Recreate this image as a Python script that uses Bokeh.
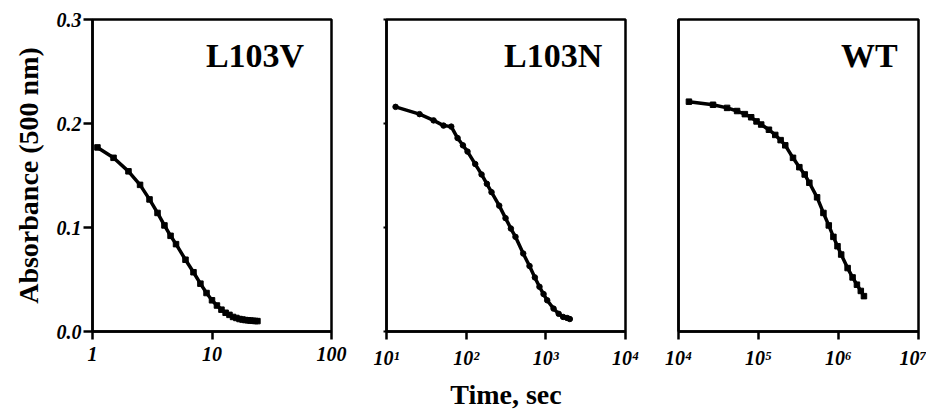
from bokeh.plotting import figure
from bokeh.layouts import row
from bokeh.models import FixedTicker, Label, Range1d
from bokeh.embed import file_html
from bokeh.resources import INLINE

# ---------------- data ----------------
l103v_t = [1.1, 1.5, 2, 2.5, 3, 3.5, 4, 4.5, 5, 6, 7, 8, 9, 10, 11, 12, 13, 14, 15,
           16, 17, 18, 19, 20, 21, 22, 23, 24]
l103v_a = [0.177, 0.167, 0.154, 0.141, 0.127, 0.114, 0.102, 0.092, 0.084, 0.069, 0.057,
           0.046, 0.037, 0.030, 0.025, 0.021, 0.018, 0.016, 0.014, 0.013, 0.012, 0.0115,
           0.011, 0.0108, 0.0105, 0.0103, 0.0101, 0.010]

l103n_t = [13, 26, 39, 52, 65, 78, 91, 104, 130, 156, 182, 208, 260, 312, 364, 416, 520,
           624, 728, 832, 936, 1040, 1250, 1450, 1650, 1850, 2000]
l103n_a = [0.216, 0.209, 0.203, 0.198, 0.197, 0.186, 0.179, 0.173, 0.161, 0.151, 0.142,
           0.134, 0.121, 0.109, 0.099, 0.091, 0.075, 0.063, 0.052, 0.043, 0.036, 0.030,
           0.022, 0.017, 0.014, 0.013, 0.012]

wt_t = [13500, 27000, 40500, 54000, 67500, 81000, 94500, 108000, 135000, 162000, 189000,
        216000, 270000, 324000, 378000, 432000, 540000, 648000, 756000, 864000, 972000,
        1080000, 1300000, 1500000, 1700000, 1900000, 2080000]
wt_a = [0.221, 0.218, 0.215, 0.212, 0.209, 0.206, 0.202, 0.199, 0.194, 0.189, 0.184,
        0.179, 0.167, 0.158, 0.151, 0.143, 0.129, 0.114, 0.102, 0.091, 0.082, 0.074,
        0.061, 0.052, 0.045, 0.039, 0.034]

y_ticks = [0.0, 0.1, 0.2, 0.3]
y_tick_labels = ["0.0", "0.1", "0.2", "0.3"]

x1_ticks = [1, 10, 100]
x1_labels = ["1", "10", "100"]
x2_ticks = [10, 100, 1000, 10000]
x2_labels = ["10\u00b9", "10\u00b2", "10\u00b3", "10\u2074"]
x3_ticks = [1e4, 1e5, 1e6, 1e7]
x3_labels = ["10\u2074", "10\u2075", "10\u2076", "10\u2077"]

panel_names = ["L103V", "L103N", "WT"]
x_title = "Time, sec"
y_title = "Absorbance (500 nm)"

FONT = "Liberation Serif"
H = 412
TOP = 19
FRAME_H = 314


def make_panel(width, left, right, xr, xt, xl, name, name_x, t, a, marker,
               show_ylabels=False, ytick_out=0, xlabel=None):
    p = figure(width=width, height=H, x_axis_type="log",
               x_range=Range1d(*xr), y_range=Range1d(0, 0.3),
               output_backend="svg", toolbar_location=None,
               min_border_left=left, min_border_right=right,
               min_border_top=TOP, min_border_bottom=H - TOP - FRAME_H)
    p.background_fill_color = "white"
    p.border_fill_color = "white"
    p.grid.visible = False
    p.outline_line_color = "black"
    p.outline_line_width = 2.5
    p.outline_line_alpha = 1

    xa = p.xaxis[0]
    xa.ticker = FixedTicker(ticks=xt, minor_ticks=[])
    ov = {float(k): v for k, v in zip(xt, xl)}
    ov.update({int(k): v for k, v in zip(xt, xl)})
    xa.major_label_overrides = ov
    xa.axis_line_width = 2.5
    xa.axis_line_color = "black"
    xa.major_tick_line_width = 2.5
    xa.major_tick_line_color = "black"
    xa.major_tick_out = 8
    xa.major_tick_in = 0
    xa.minor_tick_line_color = None
    xa.major_label_standoff = 7
    xa.major_label_text_font = FONT
    xa.major_label_text_font_style = "bold italic"
    xa.major_label_text_font_size = "20px"
    xa.major_label_text_color = "black"
    if xlabel:
        xa.axis_label = xlabel
        xa.axis_label_text_font = FONT
        xa.axis_label_text_font_style = "bold"
        xa.axis_label_text_font_size = "28px"
        xa.axis_label_standoff = 7
        xa.axis_label_text_color = "black"

    ya = p.yaxis[0]
    ya.ticker = FixedTicker(ticks=y_ticks, minor_ticks=[])
    ya.axis_line_width = 2.5
    ya.axis_line_color = "black"
    ya.minor_tick_line_color = None
    ya.major_tick_in = 0
    ya.major_tick_line_width = 2.5
    ya.major_tick_line_color = "black"
    if show_ylabels:
        ya.major_label_overrides = {k: v for k, v in zip(y_ticks, y_tick_labels)}
        ya.major_tick_out = 9
        ya.major_label_standoff = 2
        ya.major_label_text_font = FONT
        ya.major_label_text_font_style = "bold italic"
        ya.major_label_text_font_size = "20px"
        ya.major_label_text_color = "black"
        ya.axis_label = y_title
        ya.axis_label_text_font = FONT
        ya.axis_label_text_font_style = "bold"
        ya.axis_label_text_font_size = "28px"
        ya.axis_label_standoff = 10
        ya.axis_label_text_color = "black"
    else:
        ya.major_label_text_font_size = "0px"
        ya.major_label_text_alpha = 0
        ya.major_label_standoff = 0
        if ytick_out:
            ya.major_tick_out = ytick_out
            ya.major_tick_line_width = 2
        else:
            ya.major_tick_line_color = None
            ya.major_tick_out = 0

    p.line(t, a, line_color="black", line_width=3.5)
    p.scatter(t, a, marker=marker, size=5.5, fill_color="black", line_color="black")

    p.add_layout(Label(x=name_x, y=0.265, text=name, text_align="right",
                       text_baseline="alphabetic", text_font=FONT,
                       text_font_style="bold", text_font_size="34px",
                       text_color="black"))
    return p


p1 = make_panel(350, 92, 19, (1, 100), x1_ticks, x1_labels, panel_names[0], 59,
                l103v_t, l103v_a, "square", show_ylabels=True)
p2 = make_panel(300, 36, 25, (10, 10000), x2_ticks, x2_labels, panel_names[1], 5100,
                l103n_t, l103n_a, "circle", ytick_out=3, xlabel=x_title)
p3 = make_panel(276, 28, 8, (1e4, 1e7), x3_ticks, x3_labels, panel_names[2], 5.5e6,
                wt_t, wt_a, "square")

layout = row(p1, p2, p3, spacing=0)

open("out.html", "w").write(file_html(layout, INLINE))
